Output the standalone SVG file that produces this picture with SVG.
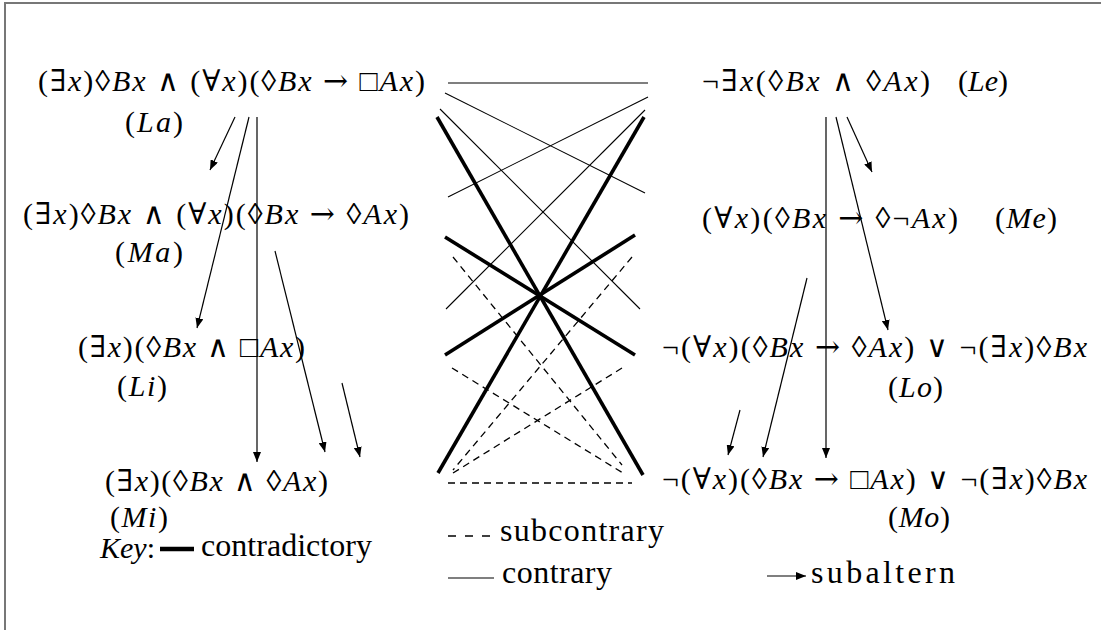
<svg xmlns="http://www.w3.org/2000/svg" width="1101" height="630" viewBox="0 0 1101 630">
<style>
text{font-family:"Liberation Serif","DejaVu Serif",serif;font-size:30px;fill:#000}
.k{font-size:32px}
.i{font-style:italic}
.a{font-family:"DejaVu Serif",serif}
.frame{fill:none;stroke:#777;stroke-width:2}
.sub{stroke:#000;stroke-width:1.2;fill:none;marker-end:url(#ah)}
.ctr{stroke:#000;stroke-width:1.1;fill:none}
.cd{stroke:#000;stroke-width:3.6;fill:none}
.kb{stroke:#000;stroke-width:4.5;fill:none}
.sc{stroke:#000;stroke-width:1.3;fill:none;stroke-dasharray:7 5}
.ks{stroke:#000;stroke-width:1.3;fill:none;stroke-dasharray:8 9}
</style>
<defs>
<marker id="ah" viewBox="0 0 10 8" refX="10" refY="4" markerWidth="10" markerHeight="8" markerUnits="userSpaceOnUse" orient="auto">
<path d="M0,0 L10,4 L0,8 Z" fill="#000"/>
</marker>
</defs>
<rect width="1101" height="630" fill="#fff"/>
<path class="frame" d="M5,630 V3 H1101"/>

<g id="La">
<text x="38" y="91" textLength="387" lengthAdjust="spacing">(∃<tspan class="i">x</tspan>)◊<tspan class="i">Bx</tspan> ∧ (∀<tspan class="i">x</tspan>)(◊<tspan class="i">Bx</tspan> <tspan class="a">→</tspan> □<tspan class="i">Ax</tspan>)</text>
<text x="125" y="132" textLength="58" lengthAdjust="spacing">(<tspan class="i">La</tspan>)</text>
</g>
<g id="Ma">
<text x="23" y="224" textLength="386" lengthAdjust="spacing">(∃<tspan class="i">x</tspan>)◊<tspan class="i">Bx</tspan> ∧ (∀<tspan class="i">x</tspan>)(◊<tspan class="i">Bx</tspan> <tspan class="a">→</tspan> ◊<tspan class="i">Ax</tspan>)</text>
<text x="115" y="262" textLength="68" lengthAdjust="spacing">(<tspan class="i">Ma</tspan>)</text>
</g>
<g id="Li">
<text x="78" y="357" textLength="227" lengthAdjust="spacing">(∃<tspan class="i">x</tspan>)(◊<tspan class="i">Bx</tspan> ∧ □<tspan class="i">Ax</tspan>)</text>
<text x="117" y="396" textLength="50" lengthAdjust="spacing">(<tspan class="i">Li</tspan>)</text>
</g>
<g id="Mi">
<text x="105" y="491" textLength="223" lengthAdjust="spacing">(∃<tspan class="i">x</tspan>)(◊<tspan class="i">Bx</tspan> ∧ ◊<tspan class="i">Ax</tspan>)</text>
<text x="110" y="527" textLength="58" lengthAdjust="spacing">(<tspan class="i">Mi</tspan>)</text>
</g>
<g id="Le">
<text x="702" y="91" textLength="228" lengthAdjust="spacing">¬∃<tspan class="i">x</tspan>(◊<tspan class="i">Bx</tspan> ∧ ◊<tspan class="i">Ax</tspan>)</text>
<text x="958" y="91" textLength="50" lengthAdjust="spacing">(<tspan class="i">Le</tspan>)</text>
</g>
<g id="Me">
<text x="702" y="228" textLength="256" lengthAdjust="spacing">(∀<tspan class="i">x</tspan>)(◊<tspan class="i">Bx</tspan> <tspan class="a">→</tspan> ◊¬<tspan class="i">Ax</tspan>)</text>
<text x="995" y="228" textLength="62" lengthAdjust="spacing">(<tspan class="i">Me</tspan>)</text>
</g>
<g id="Lo">
<text x="662" y="357" textLength="425" lengthAdjust="spacing">¬(∀<tspan class="i">x</tspan>)(◊<tspan class="i">Bx</tspan> <tspan class="a">→</tspan> ◊<tspan class="i">Ax</tspan>) ∨ ¬(∃<tspan class="i">x</tspan>)◊<tspan class="i">Bx</tspan></text>
<text x="888" y="397" textLength="55" lengthAdjust="spacing">(<tspan class="i">Lo</tspan>)</text>
</g>
<g id="Mo">
<text x="662" y="489" textLength="425" lengthAdjust="spacing">¬(∀<tspan class="i">x</tspan>)(◊<tspan class="i">Bx</tspan> <tspan class="a">→</tspan> □<tspan class="i">Ax</tspan>) ∨ ¬(∃<tspan class="i">x</tspan>)◊<tspan class="i">Bx</tspan></text>
<text x="888" y="527" textLength="62" lengthAdjust="spacing">(<tspan class="i">Mo</tspan>)</text>
</g>

<g id="connectors">
<line class="ctr" x1="448" y1="83" x2="648" y2="83"/>
<line class="ctr" x1="445" y1="93" x2="645" y2="193"/>
<line class="ctr" x1="440" y1="109" x2="640" y2="309"/>
<line class="ctr" x1="648" y1="97" x2="448" y2="197"/>
<line class="ctr" x1="645" y1="110" x2="446" y2="309"/>
<line class="cd" x1="437" y1="117" x2="643" y2="475"/>
<line class="cd" x1="644" y1="117" x2="438" y2="473"/>
<line class="cd" x1="445" y1="237" x2="635" y2="355"/>
<line class="cd" x1="635" y1="235" x2="445" y2="355"/>
<line class="sc" x1="448" y1="483" x2="632" y2="483"/>
<line class="sc" x1="453" y1="257" x2="622" y2="465"/>
<line class="sc" x1="632" y1="257" x2="453" y2="470"/>
<line class="sc" x1="452" y1="368" x2="623" y2="473"/>
<line class="sc" x1="622" y1="368" x2="453" y2="473"/>
<line class="sub" x1="235" y1="117" x2="210" y2="170"/>
<line class="sub" x1="249" y1="117" x2="197" y2="328"/>
<line class="sub" x1="257" y1="117" x2="257" y2="462"/>
<line class="sub" x1="275" y1="251" x2="325" y2="452"/>
<line class="sub" x1="342" y1="383" x2="360" y2="457"/>
<line class="sub" x1="826" y1="117" x2="826" y2="458"/>
<line class="sub" x1="836" y1="117" x2="888" y2="330"/>
<line class="sub" x1="847" y1="117" x2="872" y2="172"/>
<line class="sub" x1="807" y1="278" x2="763" y2="457"/>
<line class="sub" x1="740" y1="410" x2="728" y2="455"/>
</g>

<g id="key">
<text x="100" y="558"><tspan class="i">Key</tspan>:</text>
<line class="kb" x1="160" y1="549" x2="194" y2="549"/>
<text class="k" x="201" y="556" textLength="171" lengthAdjust="spacing">contradictory</text>
<line class="ks" x1="448" y1="536" x2="490" y2="536"/>
<text class="k" x="500" y="541" textLength="164" lengthAdjust="spacing">subcontrary</text>
<line class="ctr" x1="448" y1="578" x2="494" y2="578"/>
<text class="k" x="502" y="583" textLength="110" lengthAdjust="spacing">contrary</text>
<line class="sub" x1="767" y1="576" x2="806" y2="576"/>
<text class="k" x="811" y="583" textLength="144" lengthAdjust="spacing">subaltern</text>
</g>
</svg>
